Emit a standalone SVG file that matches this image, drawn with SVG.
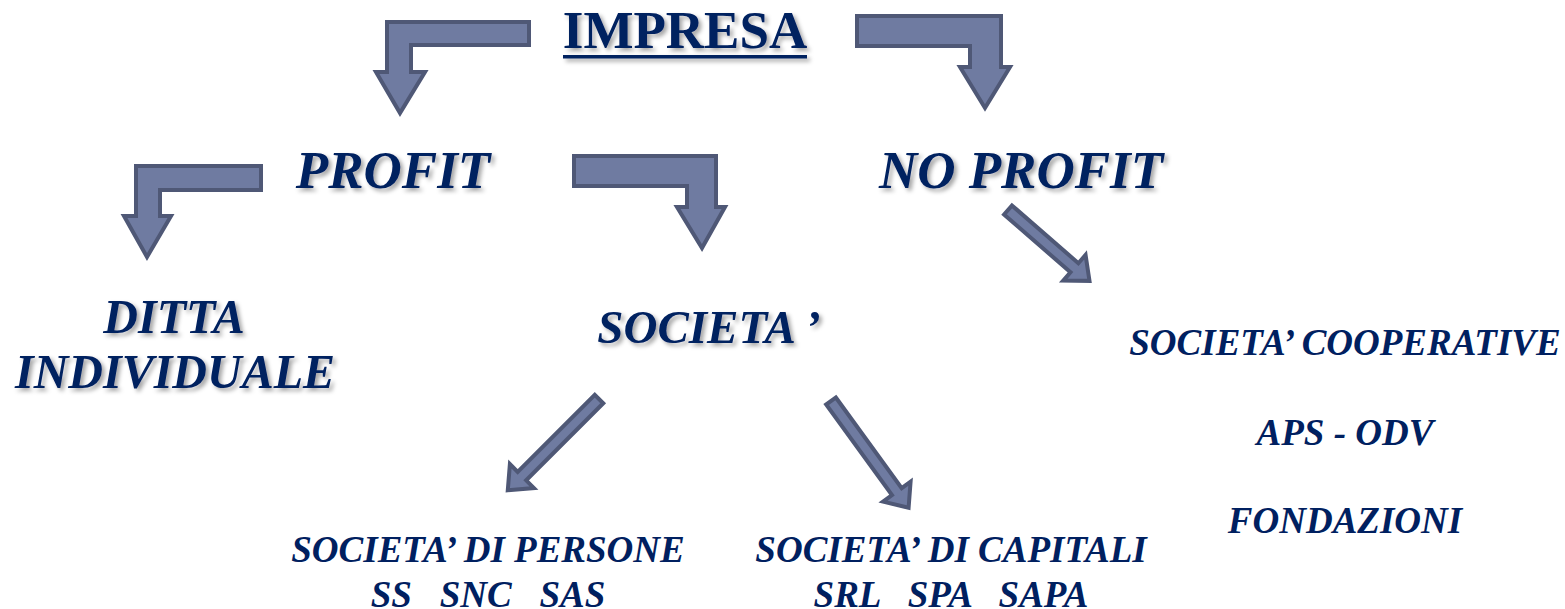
<svg xmlns="http://www.w3.org/2000/svg" width="1565" height="609" viewBox="0 0 1565 609">
<defs>
  <filter id="sh" x="-10%" y="-20%" width="130%" height="150%">
    <feDropShadow dx="3" dy="3" stdDeviation="2" flood-color="#000" flood-opacity="0.35"/>
  </filter>
  <style>
    .t { font-family: "Liberation Serif", "Times New Roman", serif; font-weight: bold; fill: #002060; text-anchor: middle; }
    .i { font-style: italic; }
    .sh { filter: url(#sh); }
    .pre { white-space: pre; }
    .arr { fill: #6F7BA1; stroke: #4F5876; stroke-width: 4; stroke-linejoin: miter; }
  </style>
</defs>
<rect width="1565" height="609" fill="#ffffff"/>

<g id="connectors">
  <path class="arr" d="M529,22 L529,45 L411,45 L411,72 L425,72 L400,113 L376,72 L387,72 L387,22 Z"/>
  <path class="arr" d="M857,16 L1001,16 L1001,67 L1010,67 L985,108 L960,67 L970,67 L970,46 L857,46 Z"/>
  <path class="arr" d="M261,166 L261,190 L160,190 L160,216 L171,216 L147,257 L124,216 L136,216 L136,166 Z"/>
  <path class="arr" d="M574,156 L716,156 L716,207 L725,207 L702,248 L677,207 L687,207 L687,186 L574,186 Z"/>
  <path class="arr" transform="translate(1008,210) rotate(41)" d="M0,-6 L88,-6 L88,-17 L108,0 L88,17 L88,6 L0,6 Z"/>
  <path class="arr" transform="translate(599,399) rotate(135)" d="M0,-6 L109,-6 L109,-17 L129,0 L109,17 L109,6 L0,6 Z"/>
  <path class="arr" transform="translate(831,401) rotate(54)" d="M0,-6 L112,-6 L112,-17 L132,0 L112,17 L112,6 L0,6 Z"/>
</g>

<g id="impresa" class="sh">
  <text class="t" x="685" y="48" font-size="53">IMPRESA</text>
  <rect x="563" y="55" width="244" height="3.5" fill="#002060"/>
</g>
<g id="profit">
  <text class="t i sh" x="393" y="188" font-size="53">PROFIT</text>
</g>
<g id="noprofit">
  <text class="t i sh" x="1021" y="188" font-size="53">NO PROFIT</text>
</g>
<g id="ditta">
  <text class="t i sh" x="174" y="333" font-size="48">DITTA</text>
  <text class="t i sh" x="175" y="388" font-size="48">INDIVIDUALE</text>
</g>
<g id="societa">
  <text class="t i sh" x="709" y="343" font-size="47">SOCIETA ’</text>
</g>
<g id="nonprofit-list">
  <text class="t i" x="1345" y="355" font-size="37">SOCIETA’ COOPERATIVE</text>
  <text class="t i" x="1345" y="445" font-size="37">APS - ODV</text>
  <text class="t i" x="1345" y="533" font-size="37">FONDAZIONI</text>
</g>
<g id="persone">
  <text class="t i" x="488" y="562" font-size="37">SOCIETA’ DI PERSONE</text>
  <text class="t i pre" x="488" y="607" font-size="37" xml:space="preserve">SS   SNC   SAS</text>
</g>
<g id="capitali">
  <text class="t i" x="951" y="562" font-size="37">SOCIETA’ DI CAPITALI</text>
  <text class="t i pre" x="951" y="607" font-size="37" xml:space="preserve">SRL   SPA   SAPA</text>
</g>
</svg>
